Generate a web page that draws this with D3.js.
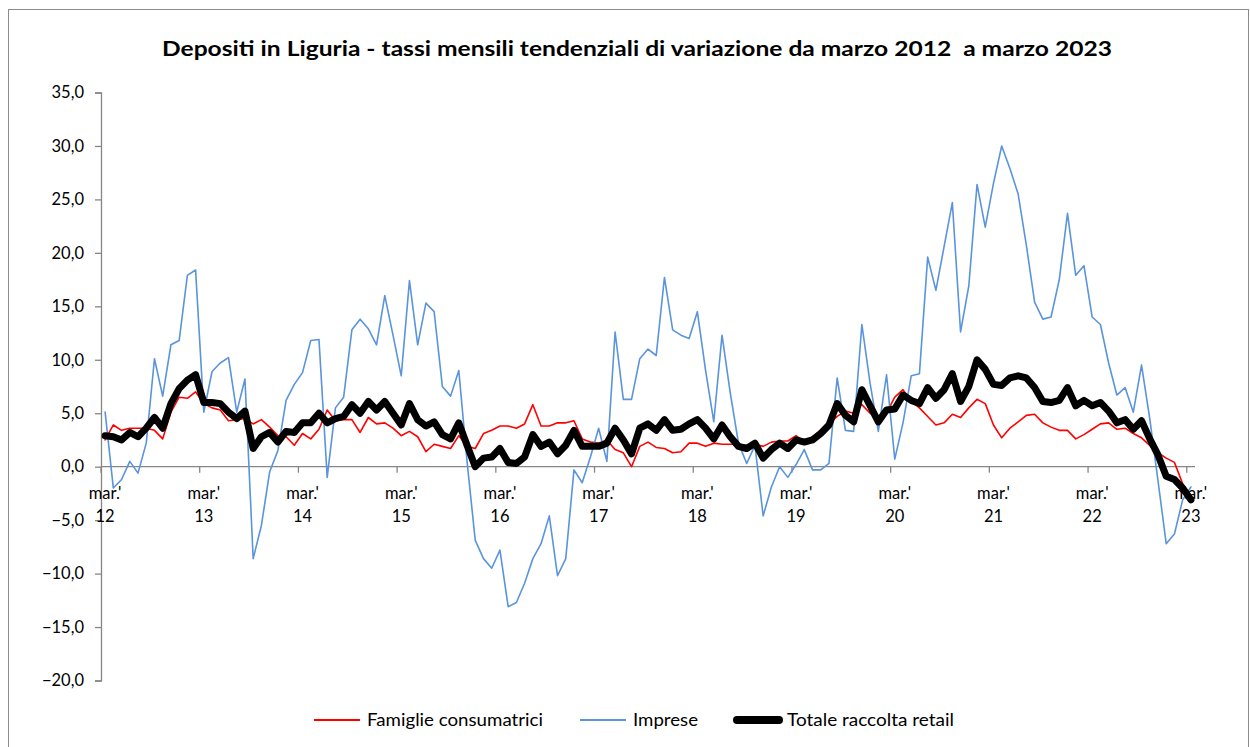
<!DOCTYPE html>
<html>
<head>
<meta charset="utf-8">
<script src="https://cdn.jsdelivr.net/npm/d3@7"></script>
<style>
body { margin:0; background:#fff; }
text { font-family: Lato, "Open Sans", sans-serif; fill:#000; }
</style>
</head>
<body>
<svg id="chart"></svg>
<script>

// tassi mensili tendenziali, da mar. 2012 (indice 0) a mar. 2023 (indice 132)
var famiglie = [
 2.5, 3.9, 3.4, 3.6, 3.6, 3.6, 3.4, 2.6, 5.1, 6.5, 6.4, 7.0,
 5.9, 5.5, 5.3, 4.3, 4.4, 4.5, 4.0, 4.4, 3.7, 2.9, 2.8, 2.0,
 3.1, 2.6, 3.5, 5.3, 4.3, 4.4, 4.4, 3.2, 4.6, 4.0, 4.1, 3.6,
 2.9, 3.3, 2.8, 1.4, 2.1, 1.9, 1.7, 2.9, 1.9, 1.7, 3.1, 3.4,
 3.8, 3.8, 3.6, 4.0, 5.8, 3.8, 3.8, 4.1, 4.1, 4.3, 2.6, 2.3,
 2.2, 2.5, 1.6, 1.3, 0.0, 1.9, 2.3, 1.8, 1.7, 1.3, 1.4, 2.2,
 2.2, 1.9, 2.2, 2.1, 2.1, 2.1, 2.0, 2.1, 1.9, 2.3, 2.4, 2.4,
 2.9, 2.3, 2.8, 3.4, 4.0, 4.7, 5.2, 5.0, 5.8, 5.0, 4.5, 5.0,
 6.5, 7.2, 6.1, 5.5, 4.7, 3.9, 4.1, 4.9, 4.6, 5.5, 6.3, 5.9,
 3.9, 2.7, 3.6, 4.2, 4.8, 4.9, 4.1, 3.7, 3.4, 3.4, 2.6, 3.0,
 3.5, 4.0, 4.1, 3.5, 3.6, 3.1, 2.7, 2.0, 1.3, 0.8, 0.4, -1.6,
 -2.8
];

var imprese = [
 5.1, -2.0, -1.2, 0.5, -0.6, 2.2, 10.1, 6.6, 11.4, 11.8, 17.9, 18.4,
 5.1, 8.9, 9.7, 10.2, 5.1, 8.2, -8.6, -5.5, -0.5, 1.5, 6.2, 7.7,
 8.8, 11.8, 11.9, -1.0, 5.5, 6.5, 12.8, 13.8, 12.9, 11.4, 16.0, 12.3,
 8.5, 17.4, 11.4, 15.3, 14.5, 7.5, 6.6, 9.0, 0.5, -6.9, -8.6, -9.5,
 -7.8, -13.1, -12.7, -10.9, -8.6, -7.2, -4.6, -10.2, -8.6, -0.3, -1.5, 0.9,
 3.6, 0.5, 12.6, 6.3, 6.3, 10.1, 11.0, 10.4, 17.7, 12.8, 12.3, 12.0,
 14.5, 9.0, 4.2, 12.3, 6.9, 2.2, 0.3, 2.0, -4.6, -1.9, 0.0, -1.0,
 0.2, 1.6, -0.3, -0.3, 0.3, 8.3, 3.4, 3.3, 13.3, 7.8, 3.3, 8.6,
 0.7, 4.1, 8.5, 8.7, 19.6, 16.5, 20.6, 24.7, 12.6, 16.9, 26.4, 22.4,
 26.5, 30.0, 27.9, 25.5, 20.7, 15.4, 13.8, 14.0, 17.5, 23.7, 17.9, 18.8,
 14.0, 13.3, 9.7, 6.7, 7.4, 5.1, 9.5, 4.5, -1.3, -7.2, -6.3, -3.1,
 -1.9
];

var totale = [
 2.9, 2.8, 2.5, 3.2, 2.8, 3.6, 4.6, 3.6, 5.9, 7.3, 8.1, 8.6,
 6.0, 6.0, 5.9, 5.1, 4.5, 5.2, 1.7, 2.8, 3.2, 2.3, 3.3, 3.2,
 4.1, 4.1, 5.0, 4.1, 4.5, 4.7, 5.8, 5.0, 6.1, 5.3, 6.1, 5.0,
 3.9, 5.9, 4.4, 3.8, 4.2, 3.0, 2.6, 4.1, 2.0, 0.0, 0.8, 0.9,
 1.7, 0.4, 0.3, 0.9, 3.0, 1.9, 2.3, 1.2, 2.0, 3.4, 1.9, 1.9,
 1.9, 2.2, 3.6, 2.5, 1.2, 3.6, 4.0, 3.4, 4.4, 3.4, 3.5, 4.0,
 4.4, 3.6, 2.6, 3.9, 2.8, 1.9, 1.7, 2.2, 0.8, 1.6, 2.2, 1.7,
 2.5, 2.3, 2.5, 3.1, 3.9, 5.9, 4.8, 4.2, 7.2, 5.7, 4.2, 5.3,
 5.4, 6.7, 6.2, 5.9, 7.4, 6.4, 7.2, 8.7, 6.1, 7.5, 10.0, 9.1,
 7.7, 7.6, 8.3, 8.5, 8.3, 7.4, 6.1, 6.0, 6.2, 7.4, 5.7, 6.2,
 5.7, 6.0, 5.2, 4.1, 4.4, 3.5, 4.3, 2.6, 1.1, -0.9, -1.2, -2.0,
 -3.1
];

var anni = ["12","13","14","15","16","17","18","19","20","21","22","23"];
var yTicks = [35, 30, 25, 20, 15, 10, 5, 0, -5, -10, -15, -20];

var serie = [
    {name:"Famiglie consumatrici", values:famiglie, color:"#ff0000", width:1.6},
    {name:"Imprese", values:imprese, color:"#5a94dc", width:1.6},
    {name:"Totale raccolta retail", values:totale, color:"#000000", width:7}
];

var drawChart = function(target)
{
    var screen = {width:1250, height:747};
    var margins = {top:92.5, left:101, right:55, bottom:66.5};
    var graph = {
        width:screen.width-margins.left-margins.right,
        height:screen.height-margins.top-margins.bottom
    };

    var svg = d3.select(target)
        .attr("width",screen.width)
        .attr("height",screen.height);

    // cornice grigia
    svg.append("rect")
        .attr("x",8.5).attr("y",9.5)
        .attr("width",1240).attr("height",760)
        .attr("fill","#fff")
        .attr("stroke","#8c8c8c")
        .attr("stroke-width",1);

    svg.append("text")
        .attr("x",637).attr("y",56)
        .attr("text-anchor","middle")
        .attr("font-size",21)
        .attr("font-weight","bold")
        .attr("textLength",950)
        .attr("lengthAdjust","spacingAndGlyphs")
        .style("white-space","pre")
        .text("Depositi in Liguria - tassi mensili tendenziali di variazione da marzo 2012  a marzo 2023");

    var mesi = d3.range(totale.length);

    var xScale = d3.scaleBand()
        .domain(mesi)
        .range([0,graph.width]);

    var yScale = d3.scaleLinear()
        .domain([-20,35])
        .range([graph.height,0]);

    var g = svg.append("g")
        .attr("transform","translate("+margins.left+","+margins.top+")");

    var xPos = function(i) { return xScale(i)+xScale.bandwidth()/2; };

    // asse y
    var yAxis = d3.axisLeft(yScale)
        .tickValues(yTicks)
        .tickSize(6)
        .tickPadding(11)
        .tickFormat(function(d){ return d3.format(".1f")(d).replace(".",","); });

    var ya = g.append("g").call(yAxis);
    ya.select(".domain").attr("stroke","#868686").attr("stroke-width",1.3);
    ya.selectAll(".tick line").attr("stroke","#868686").attr("stroke-width",1.3);
    ya.selectAll(".tick text")
        .attr("font-size",16.5)
        .attr("font-family","Lato, 'Open Sans', sans-serif")
        .attr("fill","#000");

    // asse x sullo zero, tacche ogni 12 mesi
    var xa = g.append("g")
        .attr("transform","translate(0,"+yScale(0)+")");
    xa.append("line")
        .attr("x1",0).attr("x2",graph.width)
        .attr("stroke","#868686").attr("stroke-width",1.3);
    xa.selectAll(".tacca")
        .data(anni)
        .enter()
        .append("line")
        .attr("x1",function(d,i){ return xScale(i*12); })
        .attr("x2",function(d,i){ return xScale(i*12); })
        .attr("y1",0).attr("y2",6)
        .attr("stroke","#868686").attr("stroke-width",1.3);
    var lab = xa.selectAll(".lab")
        .data(anni)
        .enter()
        .append("text")
        .attr("text-anchor","middle")
        .attr("font-size",16.5)
        .attr("x",function(d,i){ return xPos(i*12); });
    lab.append("tspan")
        .attr("x",function(d,i){ return xPos(i*12); })
        .attr("y",32)
        .text("mar.'");
    lab.append("tspan")
        .attr("x",function(d,i){ return xPos(i*12); })
        .attr("y",55)
        .text(function(d){ return d; });

    // linee
    var line = d3.line()
        .x(function(d,i){ return xPos(i); })
        .y(function(d){ return yScale(d); });

    g.selectAll(".serie")
        .data(serie)
        .enter()
        .append("path")
        .attr("d",function(s){ return line(s.values); })
        .attr("fill","none")
        .attr("stroke",function(s){ return s.color; })
        .attr("stroke-width",function(s){ return s.width; })
        .attr("stroke-linejoin","round")
        .attr("stroke-linecap","round");

    // legenda
    var legX = [314, 580, 733];
    var legW = [176, 65, 167];
    var leg = svg.selectAll(".leg")
        .data(serie)
        .enter()
        .append("g")
        .attr("transform",function(s,i){ return "translate("+legX[i]+",720)"; });
    leg.append("line")
        .attr("x1",function(s){ return s.width>3 ? 4 : 0; })
        .attr("x2",46)
        .attr("stroke",function(s){ return s.color; })
        .attr("stroke-width",function(s){ return s.width>3 ? 8 : 2; })
        .attr("stroke-linecap",function(s){ return s.width>3 ? "round" : "butt"; });
    leg.append("text")
        .attr("x",function(s){ return s.width>3 ? 54 : 53; })
        .attr("y",6)
        .attr("font-size",17)
        .attr("textLength",function(s,i){ return legW[i]; })
        .attr("lengthAdjust","spacingAndGlyphs")
        .text(function(s){ return s.name; });
}

drawChart("#chart");

</script>
</body>
</html>
